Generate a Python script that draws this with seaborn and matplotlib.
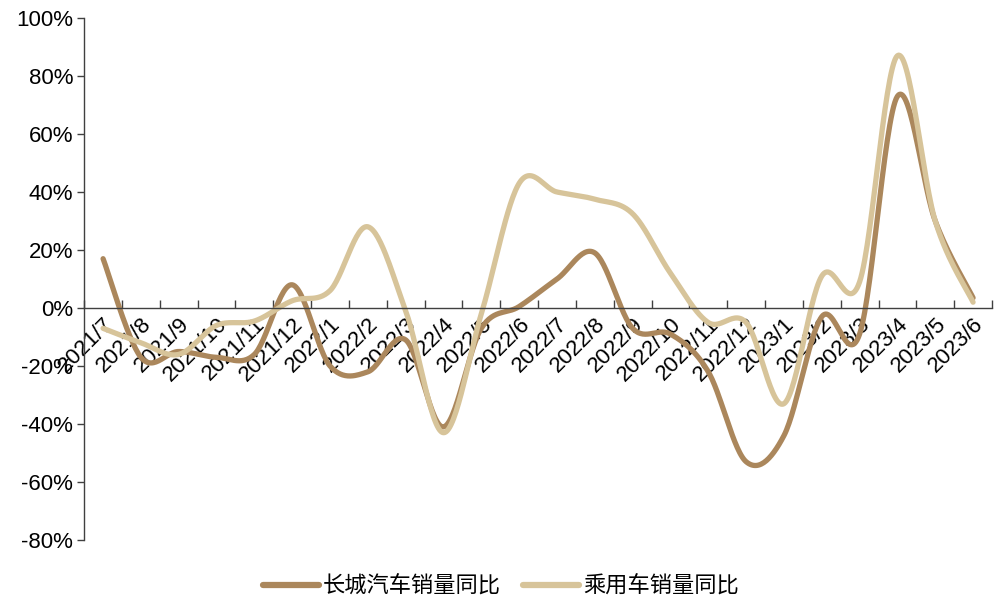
# YoY sales growth: Great Wall Motor vs passenger vehicles

import numpy as np
import pandas as pd
import matplotlib
matplotlib.use("Agg")
import matplotlib.pyplot as plt
from matplotlib.ticker import FixedLocator, FuncFormatter
import seaborn as sns

months = ["2021/7", "2021/8", "2021/9", "2021/10", "2021/11", "2021/12",
          "2022/1", "2022/2", "2022/3", "2022/4", "2022/5", "2022/6",
          "2022/7", "2022/8", "2022/9", "2022/10", "2022/11", "2022/12",
          "2023/1", "2023/2", "2023/3", "2023/4", "2023/5", "2023/6"]
gwm_yoy = [17, -17, -15, -17, -16, 8, -20, -22, -11, -41, -7, 0.5,
           10, 19, -7, -9, -22, -53, -44, -3, -9, 73, 30, 3.5]
pv_yoy = [-7, -12, -16, -6, -4.5, 2.5, 6, 28, -1, -43, -2, 43,
          40, 37.5, 32.5, 12, -5, -5, -33, 11, 9, 87, 30, 2]
series_names = ["长城汽车销量同比", "乘用车销量同比"]
colors = ["#AB875C", "#D7C49A"]


def smooth(y, n=30):
    # excel-style smoothed line (catmull-rom bezier between points)
    y = np.asarray(y, dtype=float)
    x = np.arange(len(y), dtype=float)
    px = np.concatenate([[x[0]], x, [x[-1]]])
    py = np.concatenate([[y[0]], y, [y[-1]]])
    xs, ys = [], []
    t = np.linspace(0, 1, n, endpoint=False)
    for i in range(len(y) - 1):
        p0 = np.array([px[i], py[i]])
        p1 = np.array([px[i + 1], py[i + 1]])
        p2 = np.array([px[i + 2], py[i + 2]])
        p3 = np.array([px[i + 3], py[i + 3]])
        c1 = p1 + (p2 - p0) / 6
        c2 = p2 - (p3 - p1) / 6
        b = ((1 - t) ** 3)[:, None] * p1 + (3 * (1 - t) ** 2 * t)[:, None] * c1 \
            + (3 * (1 - t) * t ** 2)[:, None] * c2 + (t ** 3)[:, None] * p2
        xs.extend(b[:, 0])
        ys.extend(b[:, 1])
    xs.append(x[-1])
    ys.append(y[-1])
    return np.array(xs), np.array(ys)


sns.set_theme(style="white")
plt.rcParams["font.family"] = ["Liberation Sans", "Noto Sans CJK SC", "DejaVu Sans"]
plt.rcParams["text.color"] = "black"
plt.rcParams["xtick.color"] = "black"
plt.rcParams["ytick.color"] = "black"

rows = []
for name, vals in zip(series_names, [gwm_yoy, pv_yoy]):
    sx, sy = smooth(vals)
    rows.append(pd.DataFrame({"x": sx, "y": sy, "series": name}))
df = pd.concat(rows, ignore_index=True)

fig = plt.figure(figsize=(10.02, 6), dpi=100)
ax = fig.add_axes([0.084, 0.1, 0.906, 0.87])

sns.lineplot(data=df, x="x", y="y", hue="series", hue_order=series_names,
             palette=colors, linewidth=3.8, sort=False, estimator=None,
             ax=ax, legend=False)

ax.set_xlim(-0.5, len(months) - 0.5)
ax.set_ylim(-80, 100)
ax.yaxis.set_major_locator(FixedLocator(np.arange(-80, 101, 20)))
ax.yaxis.set_major_formatter(FuncFormatter(lambda v, p: f"{v:.0f}%"))
ax.tick_params(axis="y", labelsize=16, length=5, width=1, color="#404040",
               labelcolor="black", direction="out", left=True, pad=3)

ax.spines["bottom"].set_position(("data", 0))
ax.spines["top"].set_visible(False)
ax.spines["right"].set_visible(False)
for s in ["left", "bottom"]:
    ax.spines[s].set_color("#404040")
    ax.spines[s].set_linewidth(1)

ax.xaxis.set_major_locator(FixedLocator(np.arange(-0.5, len(months), 1)))
ax.xaxis.set_minor_locator(FixedLocator(np.arange(len(months))))
ax.set_xticklabels([], minor=False)
ax.set_xticklabels(months, minor=True, rotation=45, ha="right", va="top",
                   rotation_mode="anchor", fontsize=16, color="black")
ax.tick_params(axis="x", which="major", direction="in", length=6, width=1,
               color="#404040", bottom=True)
ax.tick_params(axis="x", which="minor", length=0, pad=4, bottom=True)
ax.set_xlabel("")
ax.set_ylabel("")

handles = [plt.Line2D([], [], color=c, linewidth=4.5) for c in colors]
fig.legend(handles, series_names, loc="lower center", ncol=2, frameon=False,
           bbox_to_anchor=(0.5, -0.03), fontsize=16, handlelength=2.5,
           columnspacing=1.0, handletextpad=0.2)

fig.savefig("out.png", dpi=100)
